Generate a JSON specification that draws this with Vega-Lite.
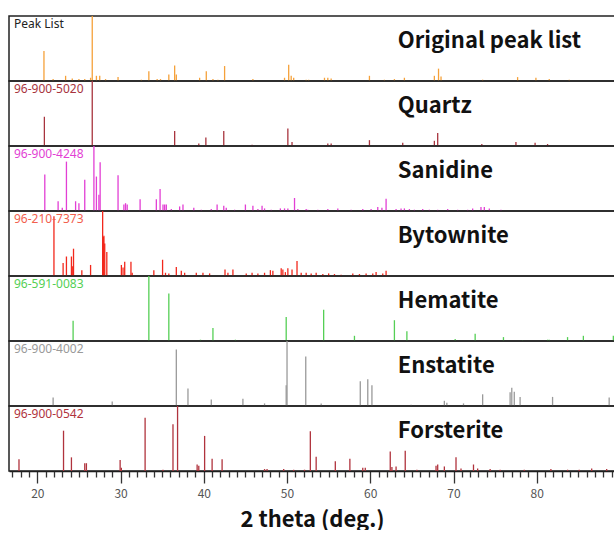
{
  "$schema": "https://vega.github.io/schema/vega-lite/v6.json",
  "padding": {"left": 8, "top": 14, "right": 0, "bottom": 0},
  "background": "white",
  "datasets": {
    "codes": [
      {"p": "Original peak list", "code": "Peak List"},
      {"p": "Quartz", "code": "96-900-5020"},
      {"p": "Sanidine", "code": "96-900-4248"},
      {"p": "Bytownite", "code": "96-210-7373"},
      {"p": "Hematite", "code": "96-591-0083"},
      {"p": "Enstatite", "code": "96-900-4002"},
      {"p": "Forsterite", "code": "96-900-0542"}
    ]
  },
  "data": {"values": [
    {"p":"Original peak list","t":20.8,"i":46},{"p":"Original peak list","t":21.9,"i":3},{"p":"Original peak list","t":23.4,"i":8},{"p":"Original peak list","t":24.2,"i":4},{"p":"Original peak list","t":25.0,"i":3},{"p":"Original peak list","t":25.7,"i":3},{"p":"Original peak list","t":26.4,"i":5},{"p":"Original peak list","t":26.6,"i":100},{"p":"Original peak list","t":27.1,"i":8},{"p":"Original peak list","t":27.5,"i":8},{"p":"Original peak list","t":28.2,"i":3},{"p":"Original peak list","t":29.7,"i":6},{"p":"Original peak list","t":32.5,"i":2},{"p":"Original peak list","t":33.4,"i":15},{"p":"Original peak list","t":34.4,"i":3},{"p":"Original peak list","t":34.8,"i":3},{"p":"Original peak list","t":35.8,"i":10},{"p":"Original peak list","t":36.5,"i":24},{"p":"Original peak list","t":36.7,"i":10},{"p":"Original peak list","t":39.5,"i":5},{"p":"Original peak list","t":40.3,"i":15},{"p":"Original peak list","t":41.1,"i":3},{"p":"Original peak list","t":41.7,"i":2},{"p":"Original peak list","t":42.5,"i":23},{"p":"Original peak list","t":45.9,"i":3},{"p":"Original peak list","t":49.7,"i":5},{"p":"Original peak list","t":50.2,"i":25},{"p":"Original peak list","t":50.5,"i":8},{"p":"Original peak list","t":50.8,"i":5},{"p":"Original peak list","t":52.3,"i":2},{"p":"Original peak list","t":52.6,"i":2},{"p":"Original peak list","t":54.5,"i":5},{"p":"Original peak list","t":54.9,"i":5},{"p":"Original peak list","t":55.3,"i":4},{"p":"Original peak list","t":59.9,"i":8},{"p":"Original peak list","t":61.7,"i":2},{"p":"Original peak list","t":62.9,"i":3},{"p":"Original peak list","t":64.1,"i":5},{"p":"Original peak list","t":67.7,"i":8},{"p":"Original peak list","t":68.2,"i":19},{"p":"Original peak list","t":68.5,"i":7},{"p":"Original peak list","t":73.5,"i":2},{"p":"Original peak list","t":77.7,"i":6},{"p":"Original peak list","t":79.9,"i":5},{"p":"Original peak list","t":81.5,"i":3},{"p":"Original peak list","t":83.9,"i":2},
    {"p":"Quartz","t":20.85,"i":45},{"p":"Quartz","t":26.6,"i":100},{"p":"Quartz","t":36.5,"i":23},{"p":"Quartz","t":39.4,"i":4},{"p":"Quartz","t":40.25,"i":13},{"p":"Quartz","t":42.4,"i":23},{"p":"Quartz","t":45.8,"i":2},{"p":"Quartz","t":50.1,"i":27},{"p":"Quartz","t":50.6,"i":6},{"p":"Quartz","t":54.9,"i":4},{"p":"Quartz","t":55.3,"i":4},{"p":"Quartz","t":59.9,"i":9},{"p":"Quartz","t":63.9,"i":5},{"p":"Quartz","t":67.7,"i":8},{"p":"Quartz","t":68.1,"i":20},{"p":"Quartz","t":73.4,"i":3},{"p":"Quartz","t":77.5,"i":6},{"p":"Quartz","t":79.8,"i":5},{"p":"Quartz","t":81.3,"i":3},
    {"p":"Sanidine","t":20.9,"i":56},{"p":"Sanidine","t":22.5,"i":15},{"p":"Sanidine","t":23.0,"i":5},{"p":"Sanidine","t":23.5,"i":76},{"p":"Sanidine","t":24.6,"i":15},{"p":"Sanidine","t":25.0,"i":12},{"p":"Sanidine","t":25.7,"i":48},{"p":"Sanidine","t":26.8,"i":100},{"p":"Sanidine","t":27.1,"i":53},{"p":"Sanidine","t":27.4,"i":25},{"p":"Sanidine","t":27.55,"i":75},{"p":"Sanidine","t":29.7,"i":55},{"p":"Sanidine","t":30.4,"i":10},{"p":"Sanidine","t":30.6,"i":12},{"p":"Sanidine","t":30.8,"i":10},{"p":"Sanidine","t":32.35,"i":18},{"p":"Sanidine","t":34.3,"i":18},{"p":"Sanidine","t":34.75,"i":34},{"p":"Sanidine","t":35.1,"i":10},{"p":"Sanidine","t":35.3,"i":10},{"p":"Sanidine","t":35.5,"i":10},{"p":"Sanidine","t":36.1,"i":3},{"p":"Sanidine","t":37.1,"i":7},{"p":"Sanidine","t":37.5,"i":10},{"p":"Sanidine","t":38.8,"i":5},{"p":"Sanidine","t":39.7,"i":2},{"p":"Sanidine","t":40.9,"i":3},{"p":"Sanidine","t":41.6,"i":10},{"p":"Sanidine","t":42.4,"i":8},{"p":"Sanidine","t":42.7,"i":5},{"p":"Sanidine","t":43.7,"i":2},{"p":"Sanidine","t":45.0,"i":10},{"p":"Sanidine","t":45.9,"i":8},{"p":"Sanidine","t":46.5,"i":3},{"p":"Sanidine","t":47.0,"i":8},{"p":"Sanidine","t":47.3,"i":4},{"p":"Sanidine","t":48.1,"i":2},{"p":"Sanidine","t":49.2,"i":4},{"p":"Sanidine","t":49.7,"i":4},{"p":"Sanidine","t":50.1,"i":4},{"p":"Sanidine","t":50.9,"i":20},{"p":"Sanidine","t":51.3,"i":3},{"p":"Sanidine","t":52.3,"i":3},{"p":"Sanidine","t":52.5,"i":2},{"p":"Sanidine","t":53.7,"i":2},{"p":"Sanidine","t":54.9,"i":3},{"p":"Sanidine","t":56.1,"i":4},{"p":"Sanidine","t":57.7,"i":2},{"p":"Sanidine","t":59.1,"i":3},{"p":"Sanidine","t":60.1,"i":3},{"p":"Sanidine","t":60.9,"i":6},{"p":"Sanidine","t":61.4,"i":5},{"p":"Sanidine","t":61.9,"i":19},{"p":"Sanidine","t":63.1,"i":3},{"p":"Sanidine","t":63.7,"i":4},{"p":"Sanidine","t":64.1,"i":4},{"p":"Sanidine","t":64.7,"i":3},{"p":"Sanidine","t":65.3,"i":2},{"p":"Sanidine","t":66.3,"i":3},{"p":"Sanidine","t":67.1,"i":2},{"p":"Sanidine","t":68.1,"i":2},{"p":"Sanidine","t":69.3,"i":3},{"p":"Sanidine","t":70.5,"i":2},{"p":"Sanidine","t":71.7,"i":2},{"p":"Sanidine","t":72.3,"i":4},{"p":"Sanidine","t":73.3,"i":6},{"p":"Sanidine","t":73.7,"i":6},{"p":"Sanidine","t":74.3,"i":4},{"p":"Sanidine","t":75.7,"i":2},
    {"p":"Bytownite","t":22.0,"i":92},{"p":"Bytownite","t":23.1,"i":20},{"p":"Bytownite","t":23.5,"i":30},{"p":"Bytownite","t":24.1,"i":30},{"p":"Bytownite","t":24.2,"i":15},{"p":"Bytownite","t":24.35,"i":42},{"p":"Bytownite","t":25.35,"i":9},{"p":"Bytownite","t":26.4,"i":17},{"p":"Bytownite","t":27.85,"i":100},{"p":"Bytownite","t":27.95,"i":60},{"p":"Bytownite","t":28.0,"i":62},{"p":"Bytownite","t":28.1,"i":50},{"p":"Bytownite","t":28.35,"i":37},{"p":"Bytownite","t":30.1,"i":17},{"p":"Bytownite","t":30.3,"i":13},{"p":"Bytownite","t":30.5,"i":22},{"p":"Bytownite","t":31.25,"i":22},{"p":"Bytownite","t":31.4,"i":5},{"p":"Bytownite","t":34.0,"i":9},{"p":"Bytownite","t":35.05,"i":25},{"p":"Bytownite","t":35.4,"i":5},{"p":"Bytownite","t":35.8,"i":4},{"p":"Bytownite","t":36.7,"i":14},{"p":"Bytownite","t":37.3,"i":8},{"p":"Bytownite","t":37.7,"i":5},{"p":"Bytownite","t":39.1,"i":5},{"p":"Bytownite","t":39.9,"i":5},{"p":"Bytownite","t":40.7,"i":4},{"p":"Bytownite","t":42.55,"i":10},{"p":"Bytownite","t":42.9,"i":5},{"p":"Bytownite","t":43.5,"i":10},{"p":"Bytownite","t":45.1,"i":4},{"p":"Bytownite","t":45.8,"i":5},{"p":"Bytownite","t":46.5,"i":4},{"p":"Bytownite","t":47.3,"i":5},{"p":"Bytownite","t":48.0,"i":9},{"p":"Bytownite","t":48.3,"i":8},{"p":"Bytownite","t":49.3,"i":12},{"p":"Bytownite","t":49.5,"i":10},{"p":"Bytownite","t":49.8,"i":6},{"p":"Bytownite","t":50.1,"i":12},{"p":"Bytownite","t":50.6,"i":10},{"p":"Bytownite","t":51.2,"i":23},{"p":"Bytownite","t":51.7,"i":5},{"p":"Bytownite","t":52.3,"i":5},{"p":"Bytownite","t":52.9,"i":4},{"p":"Bytownite","t":53.5,"i":5},{"p":"Bytownite","t":54.3,"i":3},{"p":"Bytownite","t":55.0,"i":4},{"p":"Bytownite","t":55.7,"i":3},{"p":"Bytownite","t":56.5,"i":2},{"p":"Bytownite","t":57.9,"i":4},{"p":"Bytownite","t":58.7,"i":3},{"p":"Bytownite","t":59.5,"i":4},{"p":"Bytownite","t":60.3,"i":4},{"p":"Bytownite","t":60.7,"i":6},{"p":"Bytownite","t":61.5,"i":4},{"p":"Bytownite","t":61.9,"i":8},
    {"p":"Hematite","t":24.3,"i":31},{"p":"Hematite","t":33.4,"i":100},{"p":"Hematite","t":35.8,"i":73},{"p":"Hematite","t":39.6,"i":2},{"p":"Hematite","t":41.1,"i":20},{"p":"Hematite","t":43.8,"i":2},{"p":"Hematite","t":49.9,"i":37},{"p":"Hematite","t":54.4,"i":48},{"p":"Hematite","t":58.1,"i":8},{"p":"Hematite","t":62.9,"i":32},{"p":"Hematite","t":64.4,"i":15},{"p":"Hematite","t":70.2,"i":3},{"p":"Hematite","t":72.6,"i":11},{"p":"Hematite","t":76.0,"i":6},{"p":"Hematite","t":78.3,"i":1},{"p":"Hematite","t":81.3,"i":2},{"p":"Hematite","t":81.5,"i":2},{"p":"Hematite","t":83.7,"i":6},{"p":"Hematite","t":85.6,"i":8},{"p":"Hematite","t":89.2,"i":8},
    {"p":"Enstatite","t":21.9,"i":13},{"p":"Enstatite","t":29.0,"i":7},{"p":"Enstatite","t":36.7,"i":87},{"p":"Enstatite","t":38.1,"i":27},{"p":"Enstatite","t":40.9,"i":10},{"p":"Enstatite","t":44.7,"i":11},{"p":"Enstatite","t":47.3,"i":4},{"p":"Enstatite","t":49.9,"i":32},{"p":"Enstatite","t":50.0,"i":100},{"p":"Enstatite","t":52.25,"i":76},{"p":"Enstatite","t":54.1,"i":4},{"p":"Enstatite","t":58.8,"i":38},{"p":"Enstatite","t":59.7,"i":41},{"p":"Enstatite","t":60.2,"i":32},{"p":"Enstatite","t":64.9,"i":2},{"p":"Enstatite","t":68.9,"i":8},{"p":"Enstatite","t":69.2,"i":5},{"p":"Enstatite","t":71.2,"i":4},{"p":"Enstatite","t":73.5,"i":18},{"p":"Enstatite","t":76.8,"i":21},{"p":"Enstatite","t":77.0,"i":28},{"p":"Enstatite","t":77.3,"i":22},{"p":"Enstatite","t":78.0,"i":14},{"p":"Enstatite","t":81.9,"i":14},{"p":"Enstatite","t":88.7,"i":13},
    {"p":"Forsterite","t":17.8,"i":18},{"p":"Forsterite","t":23.15,"i":62},{"p":"Forsterite","t":24.1,"i":21},{"p":"Forsterite","t":25.7,"i":12},{"p":"Forsterite","t":25.9,"i":12},{"p":"Forsterite","t":29.95,"i":17},{"p":"Forsterite","t":30.1,"i":5},{"p":"Forsterite","t":32.95,"i":82},{"p":"Forsterite","t":35.1,"i":2},{"p":"Forsterite","t":36.3,"i":72},{"p":"Forsterite","t":36.85,"i":100},{"p":"Forsterite","t":39.2,"i":10},{"p":"Forsterite","t":39.4,"i":8},{"p":"Forsterite","t":40.1,"i":54},{"p":"Forsterite","t":41.0,"i":19},{"p":"Forsterite","t":42.2,"i":18},{"p":"Forsterite","t":47.3,"i":3},{"p":"Forsterite","t":47.6,"i":3},{"p":"Forsterite","t":49.6,"i":3},{"p":"Forsterite","t":50.8,"i":2},{"p":"Forsterite","t":52.1,"i":2},{"p":"Forsterite","t":52.8,"i":61},{"p":"Forsterite","t":53.5,"i":22},{"p":"Forsterite","t":55.8,"i":15},{"p":"Forsterite","t":57.55,"i":19},{"p":"Forsterite","t":59.1,"i":5},{"p":"Forsterite","t":59.4,"i":5},{"p":"Forsterite","t":62.4,"i":30},{"p":"Forsterite","t":62.6,"i":6},{"p":"Forsterite","t":63.1,"i":7},{"p":"Forsterite","t":64.2,"i":31},{"p":"Forsterite","t":65.6,"i":2},{"p":"Forsterite","t":67.9,"i":8},{"p":"Forsterite","t":68.1,"i":10},{"p":"Forsterite","t":68.9,"i":7},{"p":"Forsterite","t":70.3,"i":21},{"p":"Forsterite","t":70.9,"i":4},{"p":"Forsterite","t":72.4,"i":10},{"p":"Forsterite","t":72.9,"i":4},{"p":"Forsterite","t":74.4,"i":3},{"p":"Forsterite","t":75.6,"i":2},{"p":"Forsterite","t":78.5,"i":2},{"p":"Forsterite","t":81.7,"i":3},{"p":"Forsterite","t":83.7,"i":2},{"p":"Forsterite","t":85.1,"i":2},{"p":"Forsterite","t":86.6,"i":4},{"p":"Forsterite","t":88.4,"i":3}
  ]},
  "transform": [
    {"lookup": "p", "from": {"data": {"name": "codes"}, "key": "p", "fields": ["code"]}}
  ],
  "facet": {
    "row": {
      "field": "p", "type": "nominal",
      "sort": ["Original peak list", "Quartz", "Sanidine", "Bytownite", "Hematite", "Enstatite", "Forsterite"],
      "header": null
    }
  },
  "spacing": 0,
  "bounds": "flush",
  "spec": {
    "width": 606,
    "height": 65,
    "resolve": {"axis": {"x": "independent"}},
    "layer": [
      {
        "mark": {"type": "rule", "strokeWidth": 1.3},
        "encoding": {
          "x": {
            "field": "t", "type": "quantitative",
            "scale": {"domain": [16.6, 89.4], "nice": false, "zero": false},
            "axis": {
              "orient": "bottom",
              "values": [20, 30, 40, 50, 60, 70, 80],
              "tickSize": 12,
              "labelPadding": 5,
              "title": "2 theta (deg.)"
            }
          },
          "y": {"field": "i", "type": "quantitative", "scale": {"domain": [0, 100]}, "axis": null},
          "y2": {"datum": 0},
          "color": {
            "field": "p", "type": "nominal", "legend": null,
            "scale": {
              "domain": ["Original peak list", "Quartz", "Sanidine", "Bytownite", "Hematite", "Enstatite", "Forsterite"],
              "range": ["#f5a13a", "#a8343e", "#e23fd4", "#f2281c", "#55cf55", "#9a9a9a", "#b0333d"]
            }
          }
        }
      },
      {
        "transform": [{"aggregate": [{"op": "count", "as": "n"}], "groupby": ["p", "code"]}],
        "mark": {"type": "text", "align": "left", "baseline": "alphabetic", "font": "Noto Sans", "fontSize": 12},
        "encoding": {
          "x": {
            "datum": 17.2,
            "axis": {
              "orient": "bottom",
              "values": [17,18,19,21,22,23,24,25,26,27,28,29,31,32,33,34,35,36,37,38,39,41,42,43,44,45,46,47,48,49,51,52,53,54,55,56,57,58,59,61,62,63,64,65,66,67,68,69,71,72,73,74,75,76,77,78,79,81,82,83,84,85,86,87,88,89],
              "tickSize": 6,
              "labels": false,
              "domain": false,
              "title": null
            }
          },
          "y": {"datum": 81},
          "text": {"field": "code"},
          "color": {
            "condition": [
              {"test": "datum.p === 'Original peak list'", "value": "#222222"},
              {"test": "datum.p === 'Bytownite'", "value": "#f2604e"}
            ],
            "field": "p", "type": "nominal", "legend": null
          }
        }
      },
      {
        "transform": [{"aggregate": [{"op": "count", "as": "n"}], "groupby": ["p"]}],
        "mark": {"type": "text", "align": "left", "baseline": "alphabetic", "font": "Noto Sans CJK KR", "fontSize": 22, "fontWeight": "bold", "color": "#111111"},
        "encoding": {
          "x": {"datum": 63.3, "axis": null},
          "y": {"datum": 51},
          "text": {"field": "p"}
        }
      }
    ]
  },
  "config": {
    "view": {"stroke": "#222222", "strokeWidth": 1.5},
    "axis": {
      "grid": false,
      "domainColor": "#111111",
      "domainWidth": 1.5,
      "tickColor": "#333333",
      "tickWidth": 1.3,
      "labelFont": "Noto Sans CJK KR",
      "labelFontSize": 12,
      "labelColor": "#555555",
      "titleFont": "Noto Sans CJK KR",
      "titleFontSize": 22,
      "titleFontWeight": "bold",
      "titleColor": "#111111",
      "titlePadding": 10
    }
  }
}
